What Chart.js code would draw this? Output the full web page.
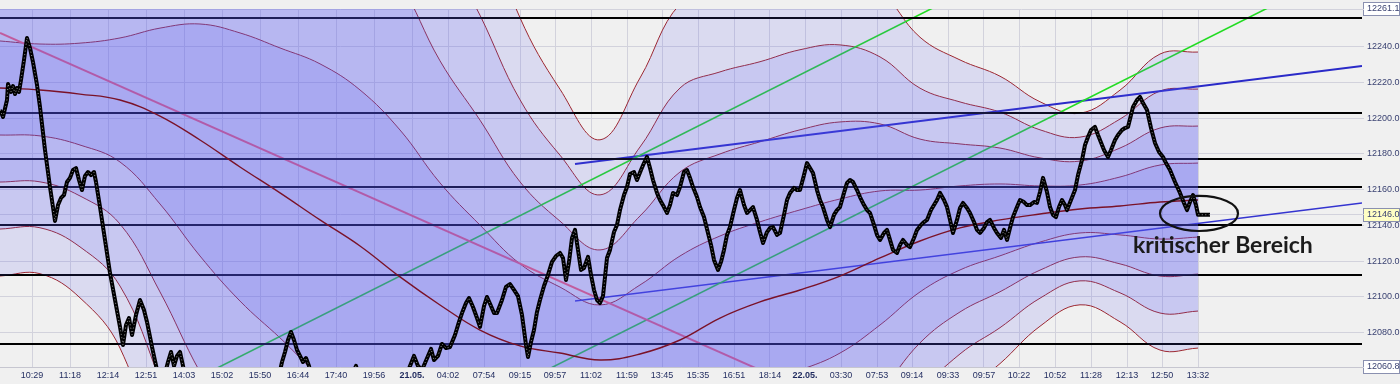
<!DOCTYPE html>
<html>
<head>
<meta charset="utf-8">
<script src="https://cdn.jsdelivr.net/npm/chart.js@4.4.1/dist/chart.umd.min.js"></script>
<style>
  html, body { margin: 0; padding: 0; background: #f0f0f0; }
  canvas { display: block; }
</style>
</head>
<body>
<canvas id="chart" width="1400" height="384"></canvas>
<script>
// Intraday chart with std-dev channel, trend lines and levels.
// x is a bar position, y is the price.

// --- time axis ---
const tickPos = [32, 70, 108, 146, 184, 222, 260, 298, 336, 374, 412, 448, 484, 520, 555, 591, 627, 662, 698,
  734, 770, 805, 841, 877, 912, 948, 984, 1019, 1055, 1091, 1127, 1162, 1198];
const tickLabels = ["10:29", "11:18", "12:14", "12:51", "14:03", "15:02", "15:50", "16:44", "17:40", "19:56",
  "21.05.", "04:02", "07:54", "09:15", "09:57", "11:02", "11:59", "13:45", "15:35", "16:51", "18:14",
  "22.05.", "03:30", "07:53", "09:14", "09:33", "09:57", "10:22", "10:52", "11:28", "12:13", "12:50", "13:32"];

// --- price axis ---
const yTicks = [12060.8, 12080, 12100, 12120, 12140, 12146, 12160, 12180, 12200, 12220, 12240, 12261.1];
const boxedTicks = [12060.8, 12146, 12261.1];
const lastPrice = 12146;

// --- price series ---
const priceX = [0, 3, 7, 8, 11, 13, 15, 17, 19, 21, 24, 27, 30, 33, 37, 40, 45, 50, 55, 58, 61, 64, 67, 70, 73, 76,
  79, 82, 85, 88, 91, 94, 96, 100, 105, 110, 115, 120, 123, 126, 129, 132, 136, 140, 144, 147, 152, 157, 162,
  168, 171, 174, 177, 180, 183, 186, 200, 240, 278, 282, 285, 288, 291, 294, 297, 300, 303, 306, 309, 312,
  330, 350, 356, 360, 380, 405, 410, 414, 418, 422, 428, 431, 434, 438, 442, 446, 450, 455, 459, 462, 466,
  469, 473, 477, 480, 484, 487, 491, 494, 497, 502, 506, 510, 514, 518, 522, 526, 528, 531, 534, 537, 540,
  544, 548, 552, 556, 560, 563, 566, 569, 572, 575, 578, 581, 584, 588, 591, 594, 597, 600, 603, 607, 610,
  614, 617, 620, 624, 627, 630, 634, 637, 641, 644, 647, 650, 653, 657, 660, 664, 667, 670, 673, 677, 680,
  684, 687, 690, 693, 697, 700, 704, 708, 711, 714, 718, 721, 724, 727, 730, 734, 737, 740, 744, 747, 750,
  753, 757, 760, 763, 767, 770, 773, 777, 780, 784, 787, 790, 794, 797, 800, 804, 807, 810, 813, 817, 820,
  823, 827, 830, 834, 837, 840, 844, 847, 850, 853, 857, 860, 864, 867, 870, 874, 877, 880, 884, 887, 890,
  893, 897, 900, 903, 907, 910, 914, 917, 921, 924, 927, 931, 934, 937, 940, 944, 947, 950, 953, 957, 960,
  963, 967, 970, 974, 977, 980, 984, 987, 990, 994, 997, 1001, 1004, 1007, 1010, 1013, 1017, 1020, 1024,
  1027, 1030, 1034, 1037, 1040, 1043, 1047, 1050, 1053, 1056, 1059, 1062, 1065, 1067, 1071, 1075, 1078,
  1082, 1085, 1088, 1091, 1095, 1098, 1100, 1104, 1108, 1111, 1115, 1118, 1122, 1125, 1128, 1131, 1133,
  1137, 1140, 1143, 1147, 1151, 1155, 1159, 1163, 1166, 1170, 1175, 1180, 1184, 1187, 1190, 1193, 1196,
  1198, 1210];
const priceY = [12204.6, 12200.7, 12210.2, 12219.1, 12214.7, 12218.0, 12213.5, 12216.9, 12214.7, 12221.4,
  12232.6, 12244.9, 12239.3, 12231.4, 12218.6, 12206.3, 12182.2, 12161.5, 12142.5, 12151.4, 12155.4, 12157.0,
  12164.3, 12166.6, 12171.0, 12172.1, 12165.4, 12159.8, 12167.7, 12169.9, 12168.2, 12169.9, 12164.3, 12150.3,
  12131.9, 12113.4, 12098.3, 12083.2, 12073.1, 12084.3, 12088.2, 12078.7, 12089.9, 12098.3, 12092.7, 12086.0,
  12072.0, 12059.1, 12050.7, 12063.6, 12069.2, 12061.4, 12067.0, 12069.2, 12061.4, 12053.5, 12042.3, 12042.3,
  12053.5, 12063.6, 12069.2, 12075.9, 12080.4, 12075.9, 12070.3, 12067.0, 12063.6, 12065.8, 12061.4, 12053.5,
  12042.3, 12053.5, 12061.4, 12053.5, 12042.3, 12053.5, 12061.4, 12067.0, 12061.4, 12059.1, 12067.0, 12070.9,
  12064.7, 12067.0, 12073.7, 12071.4, 12072.0, 12078.7, 12086.0, 12091.0, 12096.6, 12099.4, 12094.4, 12088.2,
  12083.2, 12094.9, 12100.0, 12094.9, 12091.0, 12091.0, 12098.3, 12105.6, 12107.2, 12103.9, 12100.5, 12089.9,
  12073.1, 12066.4, 12074.8, 12081.5, 12091.6, 12098.3, 12106.1, 12112.3, 12119.6, 12122.9, 12124.6, 12121.8,
  12109.5, 12119.6, 12133.0, 12137.5, 12126.3, 12115.1, 12116.2, 12122.4, 12112.3, 12103.9, 12098.3, 12096.6,
  12100.5, 12121.8, 12126.3, 12136.3, 12140.3, 12148.6, 12157.0, 12161.5, 12168.8, 12169.9, 12165.4, 12171.0,
  12174.9, 12178.3, 12172.1, 12165.4, 12158.2, 12154.2, 12150.3, 12147.0, 12151.4, 12158.2, 12157.0, 12161.5,
  12169.9, 12171.0, 12166.6, 12161.5, 12155.9, 12150.3, 12144.7, 12135.8, 12129.1, 12120.7, 12115.1, 12119.6,
  12126.3, 12134.7, 12139.1, 12148.6, 12155.4, 12159.8, 12151.4, 12147.0, 12148.6, 12150.3, 12143.1, 12136.3,
  12130.2, 12136.3, 12138.6, 12139.1, 12134.7, 12135.8, 12145.9, 12154.2, 12158.2, 12161.0, 12159.8, 12159.8,
  12168.2, 12174.9, 12172.1, 12169.3, 12159.8, 12154.2, 12150.3, 12143.1, 12139.1, 12145.9, 12148.6, 12150.3,
  12158.2, 12163.8, 12165.4, 12164.3, 12159.8, 12155.9, 12151.4, 12148.6, 12147.0, 12140.3, 12134.7, 12131.9,
  12135.8, 12137.5, 12131.9, 12126.3, 12124.6, 12129.1, 12131.9, 12129.1, 12127.9, 12133.0, 12137.5, 12140.3,
  12141.9, 12143.1, 12148.6, 12151.4, 12154.2, 12158.2, 12154.2, 12150.3, 12143.1, 12135.8, 12143.1, 12149.8,
  12152.6, 12149.8, 12147.0, 12141.9, 12137.5, 12135.8, 12138.6, 12141.9, 12143.1, 12138.6, 12135.8, 12133.0,
  12137.5, 12131.9, 12138.6, 12144.7, 12150.3, 12154.2, 12153.1, 12151.4, 12151.4, 12153.1, 12152.6, 12158.7,
  12166.6, 12158.7, 12150.3, 12145.9, 12144.7, 12150.3, 12154.2, 12151.4, 12148.6, 12154.2, 12159.8, 12168.2,
  12176.6, 12185.0, 12189.5, 12193.4, 12195.1, 12190.6, 12187.8, 12182.2, 12178.3, 12182.2, 12187.8, 12190.6,
  12193.4, 12194.5, 12195.1, 12201.8, 12206.3, 12210.2, 12211.9, 12208.5, 12204.6, 12194.5, 12186.1, 12181.1,
  12178.3, 12174.9, 12171.0, 12164.3, 12158.2, 12152.6, 12148.6, 12153.1, 12157.0, 12151.4, 12146.0, 12146.0];

// --- channel (centre line and 4 bands each side) ---
const bandX = [0, 40, 80, 120, 160, 200, 240, 280, 320, 360, 400, 440, 480, 520, 560, 600, 640, 680, 720, 760,
  800, 840, 880, 920, 960, 1000, 1040, 1080, 1120, 1160, 1198];
const mid = [12216.9, 12215.8, 12213.5, 12210.2, 12201.2, 12187.8, 12172.7, 12158.2, 12143.1, 12128.5, 12111.2,
  12095.5, 12081.5, 12072.6, 12068.6, 12064.7, 12068.1, 12075.9, 12088.2, 12097.2, 12103.9, 12111.7, 12121.8,
  12131.3, 12138.6, 12143.1, 12146.4, 12149.2, 12150.9, 12153.1, 12154.2];
const up1 = [12243.2, 12241.5, 12242.0, 12244.9, 12250.4, 12252.7, 12247.7, 12239.3, 12230.4, 12215.8, 12193.4,
  12163.8, 12140.2, 12118.5, 12105.5, 12095.5, 12106.7, 12122.9, 12134.1, 12142.0, 12148.7, 12154.8, 12159.3,
  12159.8, 12162.1, 12163.2, 12162.1, 12162.6, 12167.1, 12173.8, 12174.9];
const up2 = [12269.5, 12267.2, 12270.5, 12279.6, 12299.6, 12317.6, 12322.7, 12320.4, 12317.7, 12303.1, 12275.6,
  12232.1, 12198.9, 12164.4, 12142.4, 12126.3, 12145.3, 12169.9, 12180.0, 12186.8, 12193.5, 12197.9, 12196.8,
  12188.3, 12185.6, 12183.3, 12177.8, 12176.0, 12183.3, 12194.5, 12195.6];
const up3 = [12295.8, 12292.9, 12299.0, 12314.3, 12348.8, 12382.5, 12397.7, 12401.5, 12405.0, 12390.4, 12357.8,
  12300.4, 12257.6, 12210.3, 12179.3, 12157.1, 12183.9, 12216.9, 12225.9, 12231.6, 12238.3, 12241.0, 12234.3,
  12216.8, 12209.1, 12203.4, 12193.5, 12189.4, 12199.5, 12215.2, 12216.3];
const up4 = [12322.1, 12318.6, 12327.5, 12349.0, 12398.0, 12447.4, 12472.7, 12482.6, 12492.3, 12477.7, 12440.0,
  12368.7, 12316.3, 12256.2, 12216.2, 12187.9, 12222.5, 12263.9, 12271.8, 12276.4, 12283.1, 12284.1, 12271.8,
  12245.3, 12232.6, 12223.5, 12209.2, 12202.8, 12215.7, 12235.9, 12237.0];
const lo1 = [12190.6, 12190.1, 12185.0, 12175.5, 12152.0, 12122.9, 12097.7, 12077.1, 12055.8, 12041.2, 12029.0,
  12027.2, 12022.8, 12026.7, 12031.7, 12033.9, 12029.5, 12028.9, 12042.3, 12052.4, 12059.1, 12068.6, 12084.3,
  12102.8, 12115.1, 12123.0, 12130.7, 12135.8, 12134.7, 12132.4, 12133.5];
const lo2 = [12164.3, 12164.4, 12156.5, 12140.8, 12102.8, 12058.0, 12022.7, 11996.0, 11968.5, 11953.9, 11946.8,
  11958.9, 11964.1, 11980.8, 11994.8, 12003.1, 11990.9, 11981.9, 11996.4, 12007.6, 12014.3, 12025.5, 12046.8,
  12074.3, 12091.6, 12102.9, 12115.0, 12122.4, 12118.5, 12111.7, 12112.8];
const lo3 = [12138.0, 12138.7, 12128.0, 12106.1, 12053.6, 11993.1, 11947.7, 11914.9, 11881.2, 11866.6, 11864.6,
  11890.6, 11905.4, 11934.9, 11957.9, 11972.3, 11952.3, 11934.9, 11950.5, 11962.8, 11969.5, 11982.4, 12009.3,
  12045.8, 12068.1, 12082.8, 12099.3, 12109.0, 12102.3, 12091.0, 12092.1];
const lo4 = [12111.7, 12113.0, 12099.5, 12071.4, 12004.4, 11928.2, 11872.7, 11833.8, 11793.9, 11779.3, 11782.4,
  11822.3, 11846.7, 11889.0, 11921.0, 11941.5, 11913.7, 11887.9, 11904.6, 11918.0, 11924.7, 11939.3, 11971.8,
  12017.3, 12044.6, 12062.7, 12083.6, 12095.6, 12086.1, 12070.3, 12071.4];

// --- drawn levels and trend lines ---
const levels = [12256.1, 12202.9, 12177.2, 12161.5, 12140.2, 12112.3, 12073.7];
const levelX = [0, 1362];
const pinkX = [0, 760], pinkY = [12247.7, 12059.1];
const green1X = [205, 945], green1Y = [12056.8, 12265.1];
const green2X = [545, 1276], green2Y = [12058.6, 12264.0];
const blueTopX = [575, 1362], blueTopY = [12174.4, 12229.2];
const blueLowX = [575, 1362], blueLowY = [12097.7, 12152.6];

// annotation: ellipse round the last bars + note
const zone = { x: 1199, y: 12146.7, rx: 39, ry: 9.8 };
const note = { text: "kritischer Bereich", x: 1133, y: 12128.8 };

const pts = (xs, ys) => xs.map((x, i) => ({ x, y: ys[i] }));
const line = (data, color, width, order, extra) =>
  Object.assign({ data, borderColor: color, borderWidth: width, fill: false, order, tension: 0 }, extra || {});

const BAND_FILL = "rgba(86,86,238,0.14)";
const BAND_LINE = "#a02424";
const datasets = [];

levels.forEach((v) => datasets.push(line(pts(levelX, [v, v]), "#000", 2, 10)));     // 0..6
datasets.push(line(pts(pinkX, pinkY), "#ff6270", 2, 10));                           // 7
datasets.push(line(pts(green1X, green1Y), "#22dc22", 1.6, 10));                     // 8
datasets.push(line(pts(green2X, green2Y), "#22dc22", 1.6, 10));                     // 9
datasets.push(line(pts(blueTopX, blueTopY), "#2a2ac8", 2, 10));                     // 10
datasets.push(line(pts(blueLowX, blueLowY), "#3434d0", 1.4, 10));                   // 11
const uppers = [up1, up2, up3, up4], lowers = [lo1, lo2, lo3, lo4];
uppers.forEach((u) => datasets.push(line(pts(bandX, u), BAND_LINE, 1, 10, { tension: 0.4 })));  // 12..15
const loStart = datasets.length;
lowers.forEach((l) => datasets.push(line(pts(bandX, l), BAND_LINE, 1, 10, { tension: 0.4 })));  // 16..19
uppers.forEach((u, k) => datasets.push({
  data: pts(bandX, u), borderWidth: 0, tension: 0.4, order: 5,
  backgroundColor: BAND_FILL, fill: { target: loStart + k }
}));
datasets.push(line(pts(bandX, mid), "#7a1228", 1.4, 3, { tension: 0.4 }));
datasets.push(line(pts(priceX, priceY), "#000", 4, 1, { borderJoinStyle: "round" }));
datasets.push(line(pts(priceX, priceY), "rgba(255,255,255,0.7)", 0.8, 0, { borderDash: [1, 2.5] }));

const decorations = {
  id: "decorations",
  beforeDraw(chart) {
    const { ctx, chartArea, scales: { y } } = chart;
    ctx.save();
    boxedTicks.forEach((v) => {
      const py = Math.round(y.getPixelForValue(v));
      ctx.fillStyle = v === lastPrice ? "#ffffc4" : "#ffffff";
      ctx.fillRect(chartArea.right + 1.5, py - 6.5, 36, 13);
      ctx.strokeStyle = "#8a90b0";
      ctx.lineWidth = 1;
      ctx.strokeRect(chartArea.right + 1.5, py - 6.5, 36, 13);
    });
    ctx.restore();
  },
  afterDraw(chart) {
    const { ctx, scales: { x, y } } = chart;
    ctx.save();
    const cx = x.getPixelForValue(zone.x), cy = y.getPixelForValue(zone.y);
    const rx = x.getPixelForValue(zone.x + zone.rx) - cx;
    const ry = cy - y.getPixelForValue(zone.y + zone.ry);
    ctx.beginPath();
    ctx.ellipse(cx, cy, rx, ry, 0, 0, Math.PI * 2);
    ctx.strokeStyle = "#111";
    ctx.lineWidth = 2.2;
    ctx.stroke();
    ctx.fillStyle = "#1b1b1b";
    ctx.font = "700 23px Lato, 'Open Sans', sans-serif";
    ctx.textBaseline = "middle";
    ctx.fillText(note.text, x.getPixelForValue(note.x), y.getPixelForValue(note.y));
    ctx.restore();
  }
};

new Chart(document.getElementById("chart"), {
  type: "line",
  data: { datasets },
  plugins: [decorations],
  options: {
    responsive: false,
    animation: false,
    events: [],
    layout: { padding: { top: 9, left: 0, right: 0, bottom: 0 } },
    elements: { point: { radius: 0 } },
    plugins: { legend: { display: false }, tooltip: { enabled: false } },
    scales: {
      x: {
        type: "linear", min: 0, max: 1362,
        afterFit: (s) => { s.height = 17; },
        afterBuildTicks: (s) => { s.ticks = tickPos.map((v) => ({ value: v })); },
        ticks: {
          autoSkip: false, maxRotation: 0, padding: 3, color: "#1f2a5e",
          callback: (v, i) => tickLabels[i],
          font: (c) => ({
            family: "'Liberation Sans', Arial, sans-serif", size: 9,
            weight: tickLabels[c.index] && tickLabels[c.index].includes(".") ? "bold" : "normal"
          })
        },
        grid: { color: "#d2d2dc", drawTicks: false },
        border: { color: "#c6c6d0" }
      },
      y: {
        position: "right", min: 12060.8, max: 12261.1,
        afterFit: (s) => { s.width = 38; },
        afterBuildTicks: (s) => { s.ticks = yTicks.map((v) => ({ value: v })); },
        ticks: {
          autoSkip: false, padding: 3, color: "#3a4272",
          font: { family: "'Liberation Sans', Arial, sans-serif", size: 9 },
          callback: (v) => v.toFixed(1)
        },
        grid: { color: "#d2d2dc", tickLength: 2 },
        border: { display: false }
      }
    }
  }
});
</script>
</body>
</html>
